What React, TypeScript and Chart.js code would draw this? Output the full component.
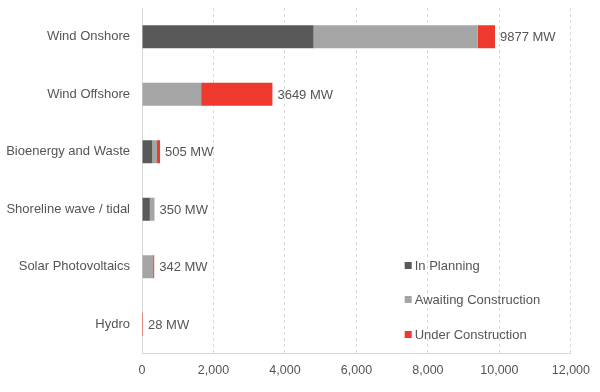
import React, { useEffect, useRef } from "react";
import { Chart, registerables } from "chart.js";

Chart.register(...registerables);

const categories = [
  "Wind Onshore",
  "Wind Offshore",
  "Bioenergy and Waste",
  "Shoreline wave / tidal",
  "Solar Photovoltaics",
  "Hydro",
];
const inPlanning = [4800, 0, 290, 220, 0, 0];
const awaitingConstruction = [4590, 1655, 130, 130, 312, 0];
const underConstruction = [487, 1994, 85, 0, 30, 28];
const totalLabels = ["9877 MW", "3649 MW", "505 MW", "350 MW", "342 MW", "28 MW"];
const xTicks = [0, 2000, 4000, 6000, 8000, 10000, 12000];

const TEXT = "#555555";
const FONT = "'Liberation Sans', Arial, sans-serif";

export default function App() {
  const ref = useRef<HTMLCanvasElement | null>(null);

  useEffect(() => {
    document.body.style.margin = "0";
    const canvas = ref.current;
    if (!canvas) return;

    const totalsPlugin = {
      id: "totals",
      afterDatasetsDraw(chart: any) {
        const ctx = chart.ctx;
        const x = chart.scales.x;
        const y = chart.scales.y;
        ctx.save();
        ctx.font = `13px ${FONT}`;
        ctx.fillStyle = TEXT;
        ctx.textBaseline = "middle";
        ctx.textAlign = "left";
        categories.forEach((_, i) => {
          const total = inPlanning[i] + awaitingConstruction[i] + underConstruction[i];
          const px = x.getPixelForValue(total) + 5;
          const py = y.getPixelForValue(i);
          ctx.fillText(totalLabels[i], px, py + 1);
        });
        ctx.restore();
      },
    };

    const legendPlugin = {
      id: "customLegend",
      afterDraw(chart: any) {
        const ctx = chart.ctx;
        const x0 = chart.scales.x.getPixelForValue(7350);
        const ys = [265, 299, 334];
        ctx.save();
        ctx.font = `13px ${FONT}`;
        ctx.textBaseline = "middle";
        ctx.textAlign = "left";
        chart.data.datasets.forEach((ds: any, i: number) => {
          ctx.fillStyle = ds.backgroundColor;
          ctx.fillRect(x0, ys[i] - 3, 7, 7);
          ctx.fillStyle = TEXT;
          ctx.fillText(ds.label, x0 + 10, ys[i] + 1);
        });
        ctx.restore();
      },
    };

    const chart = new Chart(canvas, {
      type: "bar",
      data: {
        labels: categories,
        datasets: [
          { label: "In Planning", data: inPlanning, backgroundColor: "#595959" },
          { label: "Awaiting Construction", data: awaitingConstruction, backgroundColor: "#a5a5a5" },
          { label: "Under Construction", data: underConstruction, backgroundColor: "#ee3a2e" },
        ],
      },
      options: {
        indexAxis: "y",
        animation: false,
        responsive: false,
        maintainAspectRatio: false,
        layout: { padding: { top: 8, right: 29, bottom: 0, left: 0 } },
        datasets: { bar: { barPercentage: 0.4, categoryPercentage: 1 } },
        plugins: {
          legend: { display: false },
          tooltip: { enabled: false },
        },
        scales: {
          x: {
            stacked: true,
            min: 0,
            max: 12000,
            afterFit(scale: any) {
              scale.height = 39;
            },
            afterBuildTicks(scale: any) {
              scale.ticks = xTicks.map((v) => ({ value: v }));
            },
            ticks: {
              color: TEXT,
              font: { family: FONT, size: 12.5 },
              padding: 10,
              callback: (v: any) => Number(v).toLocaleString("en-US"),
            },
            grid: {
              color: (c: any) => (c.tick && c.tick.value === 0 ? "rgba(0,0,0,0)" : "#d9d9d9"),
              lineWidth: 1,
              drawTicks: false,
            },
            border: { display: true, color: "#d9d9d9", dash: [3, 3] },
          },
          y: {
            stacked: true,
            afterFit(scale: any) {
              scale.width = 142;
              scale.paddingTop = 0;
              scale.paddingBottom = 0;
            },
            ticks: {
              color: TEXT,
              font: { family: FONT, size: 13 },
              padding: 12,
            },
            grid: { display: false, drawTicks: false },
            border: { display: true, color: "#d9d9d9" },
          },
        },
      },
      plugins: [totalsPlugin, legendPlugin],
    } as any);

    return () => chart.destroy();
  }, []);

  return (
    <div style={{ width: 600, height: 392, background: "#fff" }}>
      <canvas ref={ref} width={600} height={392} style={{ display: "block" }} />
    </div>
  );
}
